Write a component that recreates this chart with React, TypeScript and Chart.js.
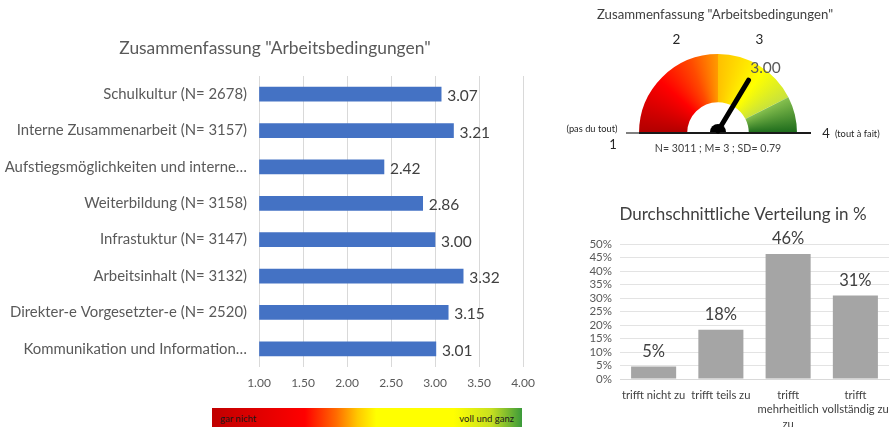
import React, { useEffect, useRef } from "react";
import { Chart, registerables } from "chart.js";

Chart.register(...registerables);

const FONT = "Lato, 'Open Sans', sans-serif";

// ---------- main chart data ----------
const categories = [
  "Schulkultur (N= 2678)",
  "Interne Zusammenarbeit (N= 3157)",
  "Aufstiegsmöglichkeiten und interne…",
  "Weiterbildung (N= 3158)",
  "Infrastuktur (N= 3147)",
  "Arbeitsinhalt (N= 3132)",
  "Direkter-e Vorgesetzter-e (N= 2520)",
  "Kommunikation und Information…",
];
const means = [3.07, 3.21, 2.42, 2.86, 3.0, 3.32, 3.15, 3.01];
const meanAxisMin = 1;
const meanAxisMax = 4;
const meanAxisStep = 0.5;
const mainTitle = 'Zusammenfassung "Arbeitsbedingungen"';

// ---------- gauge data ----------
const gaugeBounds = [1, 2.5, 3.55, 4];
const gaugeValue = 3.0;
const gaugeTickLabels = ["1", "2", "3", "4"];
const gaugeStats = "N= 3011 ; M= 3 ; SD= 0.79";
const gaugeLeftText = "(pas du tout)";
const gaugeRightText = "(tout à fait)";

// ---------- distribution data ----------
const distCategories = [
  ["trifft nicht zu"],
  ["trifft teils zu"],
  ["trifft", "mehrheitlich", "zu"],
  ["trifft", "vollständig zu"],
];
const distValues = [4.6, 18.2, 46.3, 30.9];
const distLabels = ["5%", "18%", "46%", "31%"];
const distAxisMax = 50;
const distAxisStep = 5;
const distTitle = "Durchschnittliche Verteilung in %";

const textPlugin = (id: string, text: string, x: number, y: number, size: number, color: string) => ({
  id,
  afterDraw(chart: any) {
    const ctx = chart.ctx;
    ctx.save();
    ctx.fillStyle = color;
    ctx.font = `${size}px ${FONT}`;
    ctx.textAlign = "center";
    ctx.textBaseline = "middle";
    ctx.fillText(text, x, y);
    ctx.restore();
  },
});

function MainChart() {
  const ref = useRef<HTMLCanvasElement>(null);
  useEffect(() => {
    const labelPlugin = {
      id: "barLabels",
      afterDatasetsDraw(chart: any) {
        const ctx = chart.ctx;
        const meta = chart.getDatasetMeta(0);
        ctx.save();
        ctx.font = `15.5px ${FONT}`;
        ctx.fillStyle = "#404040";
        ctx.textAlign = "left";
        ctx.textBaseline = "middle";
        meta.data.forEach((bar: any, i: number) => {
          ctx.fillText(means[i].toFixed(2), bar.x + 6, bar.y + 2);
        });
        ctx.restore();
      },
    };
    const chart = new Chart(ref.current!, {
      type: "bar",
      data: {
        labels: categories,
        datasets: [
          {
            data: means,
            backgroundColor: "#4472c4",
            barThickness: 14,
            base: meanAxisMin,
          } as any,
        ],
      },
      options: {
        animation: false,
        responsive: false,
        indexAxis: "y",
        layout: { padding: { left: 0, right: 37, top: 76, bottom: 0 } },
        plugins: {
          legend: { display: false },
          tooltip: { enabled: false },
          title: { display: false },
        },
        scales: {
          x: {
            min: meanAxisMin,
            max: meanAxisMax,
            ticks: {
              stepSize: meanAxisStep,
              color: "#595959",
              font: { family: FONT, size: 12 },
              padding: 9,
              callback: (v: any) => Number(v).toFixed(2),
            },
            grid: { color: "#d9d9d9", drawTicks: false },
            border: { display: false },
            afterFit: (s: any) => {
              s.height = 33;
              s.paddingLeft = 0;
              s.paddingRight = 0;
            },
          },
          y: {
            ticks: {
              color: "#595959",
              font: { family: FONT, size: 14.9 },
              padding: 12,
            },
            grid: { display: false, drawTicks: false },
            border: { display: false },
            afterFit: (s: any) => {
              s.width = 259;
              s.paddingTop = 0;
              s.paddingBottom = 0;
            },
          },
        },
      },
      plugins: [labelPlugin, textPlugin("mainTitle", mainTitle, 275, 48, 17.4, "#595959")],
    });
    return () => chart.destroy();
  }, []);
  return <canvas ref={ref} width={560} height={400} style={{ width: 560, height: 400 }} />;
}

function GaugeChart() {
  const ref = useRef<HTMLCanvasElement>(null);
  useEffect(() => {
    const span = gaugeBounds[gaugeBounds.length - 1] - gaugeBounds[0];
    const bands = gaugeBounds.slice(1).map((b, i) => b - gaugeBounds[i]);
    const tOf = (v: number) => ((v - gaugeBounds[0]) / span) * 0.5;
    const angleOf = (v: number) => Math.PI * (1 - (v - gaugeBounds[0]) / span);

    const gaugePlugin = {
      id: "gaugeDeco",
      afterDraw(chart: any) {
        const ctx = chart.ctx;
        const a = chart.chartArea;
        const cx = (a.left + a.right) / 2;
        const cy = a.bottom;
        ctx.save();
        // baseline
        ctx.lineWidth = 2;
        ctx.strokeStyle = "#808080";
        ctx.beginPath();
        ctx.moveTo(66, cy);
        ctx.lineTo(a.left, cy);
        ctx.stroke();
        ctx.strokeStyle = "#1a1a1a";
        ctx.beginPath();
        ctx.moveTo(a.left, cy);
        ctx.lineTo(251, cy);
        ctx.stroke();
        // needle
        const ang = angleOf(gaugeValue);
        const len = 61;
        const tx = cx + len * Math.cos(ang);
        const ty = cy - len * Math.sin(ang);
        ctx.strokeStyle = "#000";
        ctx.lineWidth = 5;
        ctx.lineCap = "round";
        ctx.beginPath();
        ctx.moveTo(cx, cy - 2);
        ctx.lineTo(tx, ty);
        ctx.stroke();
        ctx.fillStyle = "#000";
        ctx.beginPath();
        ctx.arc(cx, cy - 1, 8, Math.PI, 2 * Math.PI);
        ctx.fill();
        // value label
        ctx.fillStyle = "#595959";
        ctx.font = `15.5px ${FONT}`;
        ctx.textAlign = "center";
        ctx.textBaseline = "middle";
        ctx.fillText(gaugeValue.toFixed(2), tx + 17, ty - 12);
        // tick labels 2 and 3 above
        ctx.fillStyle = "#262626";
        ctx.font = `13.5px ${FONT}`;
        [1, 2].forEach((i) => {
          const v = Number(gaugeTickLabels[i]);
          const x = cx + 83 * Math.cos(angleOf(v));
          ctx.fillText(gaugeTickLabels[i], x, 40);
        });
        // 1 and 4
        ctx.font = `13px ${FONT}`;
        ctx.fillText(gaugeTickLabels[0], 53, 145);
        ctx.fillText(gaugeTickLabels[3], 266, 134);
        ctx.font = `9.3px ${FONT}`;
        ctx.fillText(gaugeLeftText, 32, 129);
        ctx.textAlign = "left";
        ctx.fillText(gaugeRightText, 275, 134);
        // stats
        ctx.textAlign = "center";
        ctx.fillStyle = "#404040";
        ctx.font = `10.6px ${FONT}`;
        ctx.fillText(gaugeStats, cx, 149);
        ctx.restore();
      },
    };

    const makeGradient = (chart: any) => {
      const a = chart.chartArea;
      if (!a) return "#ff0000";
      const cx = (a.left + a.right) / 2;
      const cy = a.bottom;
      const ctx = chart.ctx as CanvasRenderingContext2D;
      const g = (ctx as any).createConicGradient(Math.PI, cx, cy);
      g.addColorStop(0, "#b00000");
      g.addColorStop(tOf(1.7), "#ff0000");
      g.addColorStop(tOf(2.15), "#ff4a00");
      g.addColorStop(tOf(2.5) - 0.0005, "#ff9a00");
      g.addColorStop(tOf(2.5), "#ffc000");
      g.addColorStop(tOf(3.1), "#ffff00");
      g.addColorStop(tOf(3.55) - 0.0005, "#c8e23c");
      g.addColorStop(tOf(3.55), "#86c04e");
      g.addColorStop(tOf(4), "#1b6a1b");
      g.addColorStop(1, "#1b6a1b");
      return g;
    };

    const chart = new Chart(ref.current!, {
      type: "doughnut",
      data: {
        labels: ["a", "b", "c"],
        datasets: [
          {
            data: bands,
            backgroundColor: (c: any) => makeGradient(c.chart),
            borderWidth: 0,
            hoverOffset: 0,
            offset: 0,
          } as any,
        ],
      },
      options: {
        animation: false,
        responsive: false,
        rotation: -90,
        circumference: 180,
        cutout: "39%",
        layout: { padding: { left: 79, right: 94, top: 54, bottom: 32 } },
        plugins: {
          legend: { display: false },
          tooltip: { enabled: false },
          title: { display: false },
        },
      } as any,
      plugins: [gaugePlugin, textPlugin("gaugeTitle", mainTitle, 155, 15, 13.2, "#404040")],
    });
    return () => chart.destroy();
  }, []);
  return <canvas ref={ref} width={331} height={165} style={{ width: 331, height: 165 }} />;
}

function DistChart() {
  const ref = useRef<HTMLCanvasElement>(null);
  useEffect(() => {
    const labelPlugin = {
      id: "distLabels",
      afterDatasetsDraw(chart: any) {
        const ctx = chart.ctx;
        const meta = chart.getDatasetMeta(0);
        ctx.save();
        ctx.font = `16.5px ${FONT}`;
        ctx.fillStyle = "#404040";
        ctx.textAlign = "center";
        ctx.textBaseline = "middle";
        meta.data.forEach((bar: any, i: number) => {
          ctx.fillText(distLabels[i], bar.x, bar.y - 15);
        });
        ctx.restore();
      },
    };
    const chart = new Chart(ref.current!, {
      type: "bar",
      data: {
        labels: distCategories as any,
        datasets: [
          {
            data: distValues,
            backgroundColor: "#a5a5a5",
            barPercentage: 0.67,
            categoryPercentage: 1,
          },
        ],
      },
      options: {
        animation: false,
        responsive: false,
        layout: { padding: { left: 0, right: 2, top: 44, bottom: 0 } },
        plugins: {
          legend: { display: false },
          tooltip: { enabled: false },
          title: { display: false },
        },
        scales: {
          x: {
            ticks: {
              color: "#404040",
              font: { family: FONT, size: 11.2, lineHeight: 1.3 },
              padding: 9,
              maxRotation: 0,
              autoSkip: false,
            },
            grid: { display: false, drawTicks: false },
            border: { color: "#d9d9d9" },
            afterFit: (s: any) => {
              s.height = 48;
              s.paddingLeft = 0;
              s.paddingRight = 0;
            },
          },
          y: {
            min: 0,
            max: distAxisMax,
            ticks: {
              stepSize: distAxisStep,
              autoSkip: false,
              color: "#595959",
              font: { family: FONT, size: 11.5 },
              padding: 8,
              callback: (v: any) => `${v}%`,
            },
            grid: { color: "#e3e3e3", drawTicks: false },
            border: { display: false },
            afterFit: (s: any) => {
              s.width = 40;
              s.paddingTop = 0;
              s.paddingBottom = 0;
            },
          },
        },
      },
      plugins: [labelPlugin, textPlugin("distTitle", distTitle, 163, 15, 17, "#404040")],
    });
    return () => chart.destroy();
  }, []);
  return <canvas ref={ref} width={311} height={227} style={{ width: 311, height: 227 }} />;
}

export default function App() {
  return (
    <div
      style={{
        position: "fixed",
        left: 0,
        top: 0,
        width: 891,
        height: 427,
        background: "#fff",
        overflow: "hidden",
      }}
    >
      <div style={{ position: "absolute", left: 0, top: 0 }}>
        <MainChart />
      </div>
      <div style={{ position: "absolute", left: 560, top: 0 }}>
        <GaugeChart />
      </div>
      <div style={{ position: "absolute", left: 580, top: 200 }}>
        <DistChart />
      </div>
      <div
        style={{
          position: "absolute",
          left: 212,
          top: 408,
          width: 310,
          height: 20,
          background:
            "linear-gradient(to right, #c00000 0%, #e00000 15%, #ff0000 30%, #ff6a00 40%, #ffc800 47%, #ffff00 53%, #ffff00 78%, #c8e020 90%, #3b9a3b 100%)",
          fontFamily: FONT,
          fontSize: 9.5,
          color: "#1a1a1a",
          display: "flex",
          justifyContent: "space-between",
          alignItems: "center",
          padding: "0 8px",
          boxSizing: "border-box",
        }}
      >
        <span>gar nicht</span>
        <span>voll und ganz</span>
      </div>
    </div>
  );
}
